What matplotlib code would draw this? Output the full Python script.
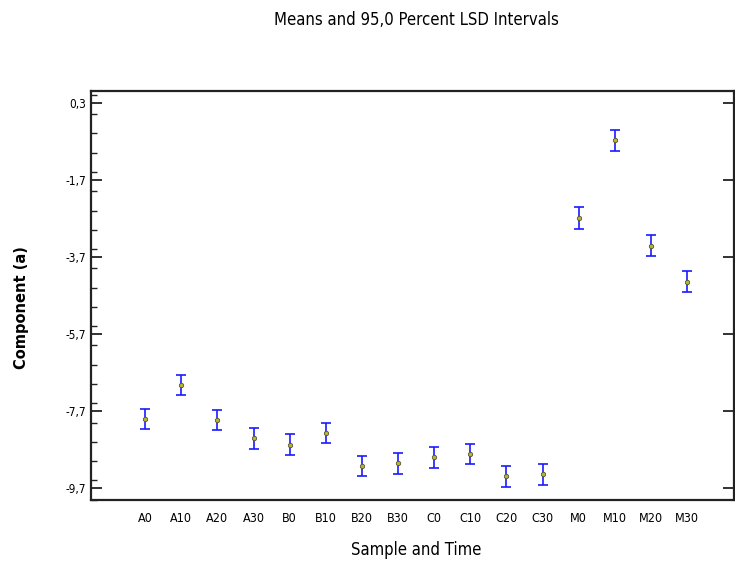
import matplotlib.pyplot as plt
from matplotlib.ticker import MultipleLocator, FixedLocator

# Datos
samples = ['A0', 'A10', 'A20', 'A30', 'B0', 'B10', 'B20', 'B30',
           'C0', 'C10', 'C20', 'C30', 'M0', 'M10', 'M20', 'M30']
means = [-7.90, -7.03, -7.94, -8.41, -8.58, -8.26, -9.13, -9.06,
         -8.90, -8.82, -9.39, -9.34, -2.69, -0.68, -3.41, -4.35]
lsd_half = [0.26, 0.26, 0.26, 0.27, 0.27, 0.26, 0.27, 0.27,
            0.27, 0.26, 0.27, 0.27, 0.28, 0.27, 0.28, 0.27]
yticks = [0.3, -1.7, -3.7, -5.7, -7.7, -9.7]

narrow = ['DejaVu Sans']

fig = plt.figure(figsize=(7.35, 5.64), dpi=100)
ax = fig.add_axes([91 / 735, 1 - 500 / 564, 643 / 735, (500 - 90.7) / 564])

x = list(range(len(samples)))
ax.errorbar(x, means, yerr=lsd_half, fmt='none', ecolor='#1a1aff',
            elinewidth=1.2, capsize=3.5, capthick=1.2)
ax.scatter(x, means, s=10, facecolor='#b5b530', edgecolor='#555533',
           linewidths=0.6, zorder=3)

ax.set_xlim(-1.5, 16.3)
ax.set_ylim(-10.01, 0.61)
ax.set_xticks(x)
ax.set_xticklabels(samples, family=narrow, stretch='condensed', fontsize=9)
ax.tick_params(axis='x', length=0, pad=9)

ax.yaxis.set_major_locator(FixedLocator(yticks))
ax.yaxis.set_minor_locator(MultipleLocator(0.5))
ax.set_yticklabels([f'{v:.1f}'.replace('.', ',') for v in yticks],
                   family=narrow, stretch='condensed', fontsize=8.5)
ax.tick_params(axis='y', which='major', direction='in', length=8, width=1.3,
               right=True, color='#222222')
ax.tick_params(axis='y', which='minor', direction='in', length=4, width=1.0,
               color='#222222')

for s in ax.spines.values():
    s.set_linewidth(1.6)
    s.set_color('#222222')

fig.text(416 / 735, 1 - 20 / 564, 'Means and 95,0 Percent LSD Intervals',
         ha='center', va='center', fontsize=12, family=narrow, stretch='condensed')
fig.text(416 / 735, 1 - 550 / 564, 'Sample and Time', ha='center', va='center',
         fontsize=12, family=narrow, stretch='condensed')
fig.text(22 / 735, 1 - 308 / 564, 'Component (a)', rotation=90, ha='center',
         va='center', fontsize=10.5, fontweight='bold')

fig.savefig('out.png', dpi=100)
